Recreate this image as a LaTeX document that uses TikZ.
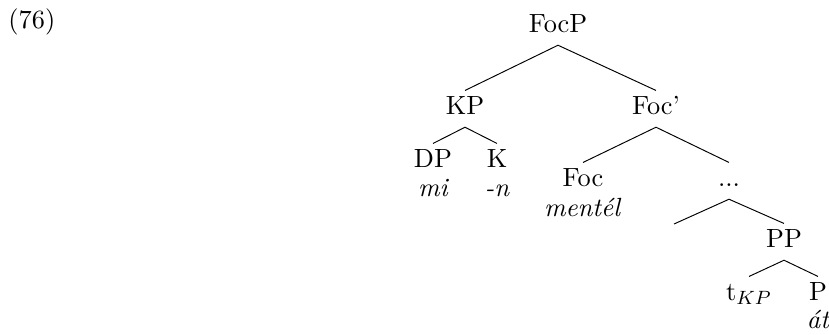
\documentclass[tikz,border=0pt]{standalone}
\usepackage{fontspec}
\begin{document}
\begin{tikzpicture}[x=0.41616pt,y=-0.41616pt,
  every node/.style={font=\fontsize{10.95}{13.6}\selectfont},
  cat/.style={anchor=base,inner xsep=0pt,inner ysep=2.1pt,text height=7.5pt,text depth=3.2pt},
  word/.style={anchor=base,inner sep=0pt,font=\fontsize{10.95}{13.6}\selectfont\itshape},
  branch/.style={line width=0.4pt}]
\useasboundingbox (0,0) rectangle (829,334);
\node[anchor=base west,inner sep=0pt] (ex) at (8,28) {(76)};
\node[cat] (focp) at (558,32) {FocP};
\node[cat] (kp) at (465,114) {KP};
\node[cat] (focbar) at (656,114) {Foc'};
\node[cat] (dp) at (433,167) {DP};
\node[cat] (k) at (497,167) {K};
\node[word] (mi) at (433,196) {mi};
\node[word] (n) at (497,196) {-n};
\node[cat] (foc) at (583,186) {Foc};
\node[word] (mentel) at (582,216) {mentél};
\node[cat] (dots) at (729,186) {...};
\coordinate (empty) at (674,224);
\node[cat] (pp) at (784,247) {PP};
\node[cat] (t) at (749,300) {t$_{KP}$};
\node[cat] (p) at (818,300) {P};
\node[word] (at) at (818,328) {át};
\draw[branch] (kp.north) -- (focp.south) -- (focbar.north);
\draw[branch] (dp.north) -- (kp.south) -- (k.north);
\draw[branch] (foc.north) -- (focbar.south) -- (dots.north);
\draw[branch] (empty) -- (dots.south) -- (pp.north);
\draw[branch] (t.north) -- (pp.south) -- (p.north);
\end{tikzpicture}
\end{document}
